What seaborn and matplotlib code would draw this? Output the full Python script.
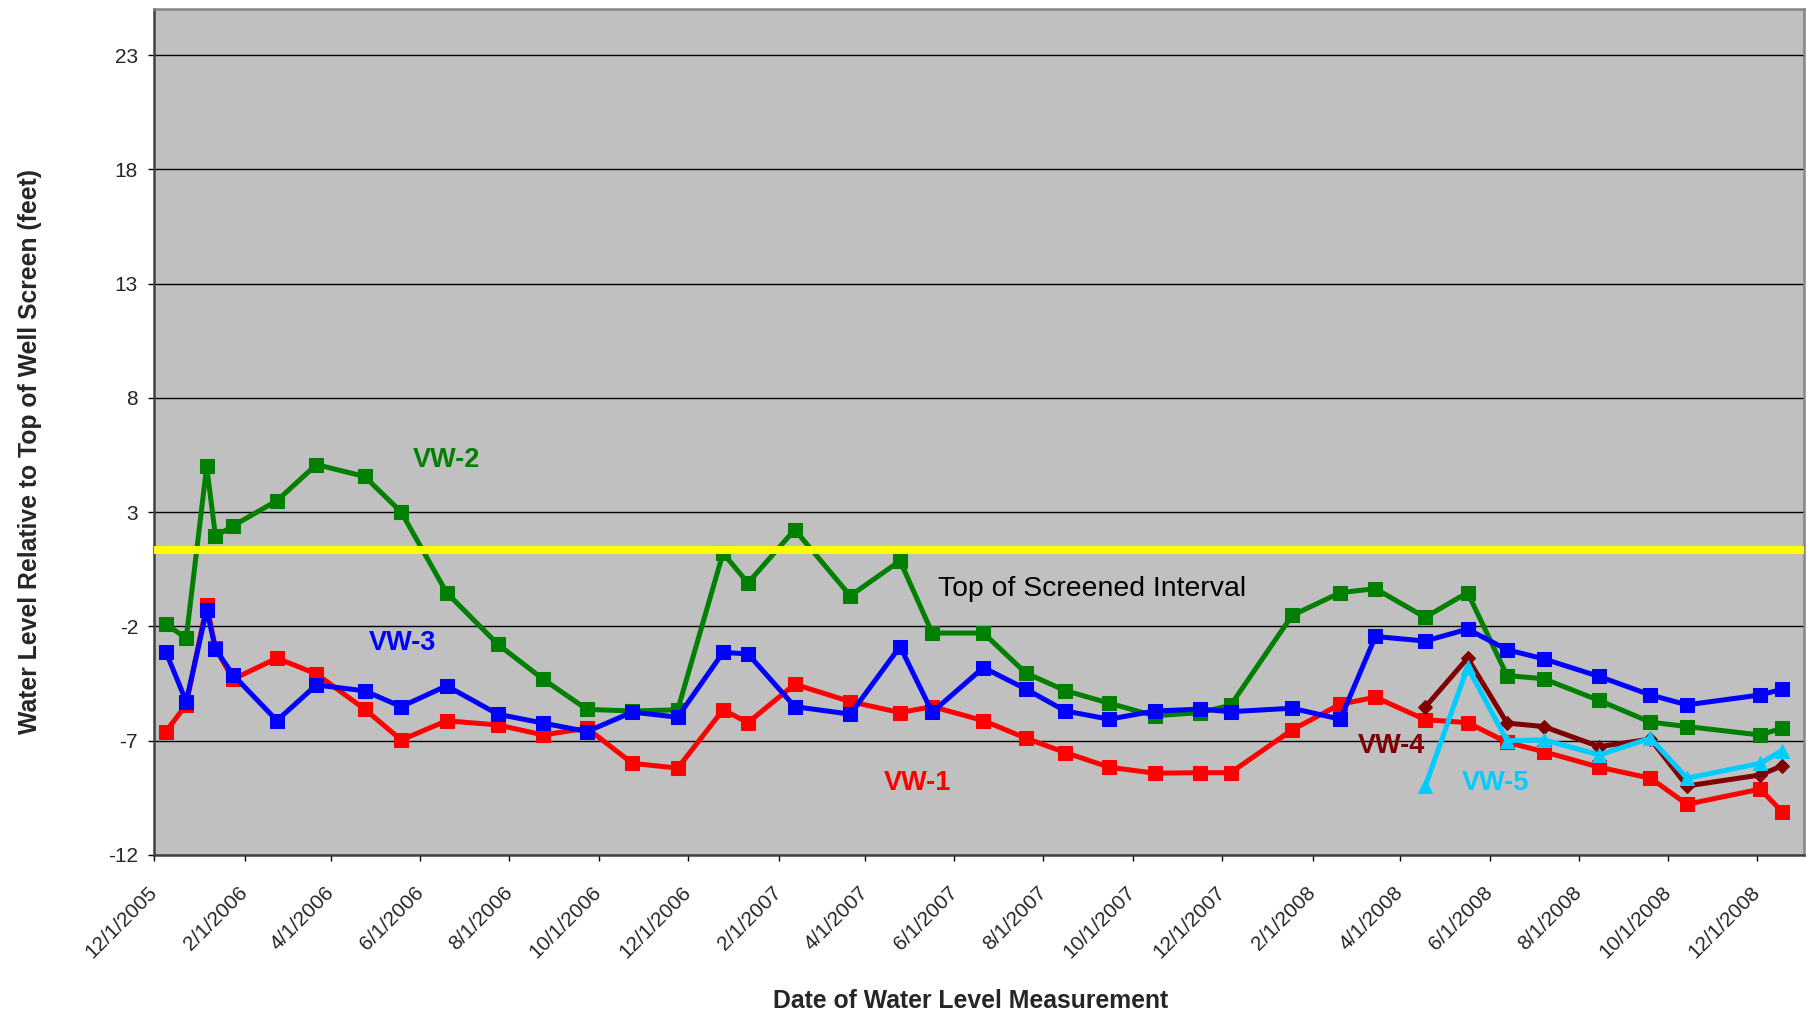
import seaborn as sns
import matplotlib.pyplot as plt
import pandas as pd

# measurement dates (shared by all wells)
dates = ['2005-12-09', '2005-12-23', '2006-01-06', '2006-01-12', '2006-01-24',
         '2006-02-23', '2006-03-22', '2006-04-24', '2006-05-19', '2006-06-19',
         '2006-07-24', '2006-08-24', '2006-09-23', '2006-10-24', '2006-11-24',
         '2006-12-25', '2007-01-11', '2007-02-12', '2007-03-22', '2007-04-25',
         '2007-05-17', '2007-06-21', '2007-07-20', '2007-08-16', '2007-09-15',
         '2007-10-16', '2007-11-16', '2007-12-07', '2008-01-18', '2008-02-20',
         '2008-03-15', '2008-04-18', '2008-05-17', '2008-06-13', '2008-07-08',
         '2008-08-15', '2008-09-19', '2008-10-14', '2008-12-03', '2008-12-18']

vw1 = [-6.6, -5.43, -1.05, -2.95, -4.31, -3.39, -4.08, -5.62, -6.97, -6.13,
       -6.31, -6.75, -6.45, -7.99, -8.2, -5.65, -6.21, -4.53, -5.29, -5.77,
       -5.51, -6.12, -6.89, -7.52, -8.16, -8.42, -8.4, -8.4, -6.53, -5.4,
       -5.1, -6.08, -6.21, -7.07, -7.48, -8.16, -8.64, -9.78, -9.12, -10.1]

vw2 = [-1.9, -2.51, 5.0, 1.94, 2.4, 3.5, 5.08, 4.56, 3.0, -0.52,
       -2.78, -4.31, -5.63, -5.7, -5.65, 1.21, -0.1, 2.23, -0.66, 0.87,
       -2.29, -2.29, -4.04, -4.81, -5.36, -5.91, -5.77, -5.45, -1.52, -0.52,
       -0.35, -1.6, -0.52, -4.15, -4.29, -5.24, -6.19, -6.38, -6.75, -6.45]

vw3 = [-3.1, -5.29, -1.27, -2.99, -4.12, -6.12, -4.56, -4.82, -5.51, -4.6,
       -5.84, -6.23, -6.6, -5.75, -5.97, -3.14, -3.2, -5.51, -5.84, -2.88,
       -5.75, -3.8, -4.74, -5.7, -6.06, -5.7, -5.62, -5.73, -5.58, -6.06,
       -2.44, -2.64, -2.12, -3.02, -3.42, -4.19, -5.0, -5.43, -5.0, -4.75]

# VW-4 and VW-5 start in April 2008
late_dates = dates[31:]
vw4 = [-5.53, -3.39, -6.23, -6.38, -7.26, -6.93, -8.98, -8.5, -8.1]
vw5 = [-9.0, -3.78, -7.0, -6.96, -7.62, -6.89, -8.64, -7.99, -7.43]

screen_top = 1.35

tick_labels = ['12/1/2005', '2/1/2006', '4/1/2006', '6/1/2006', '8/1/2006',
               '10/1/2006', '12/1/2006', '2/1/2007', '4/1/2007', '6/1/2007',
               '8/1/2007', '10/1/2007', '12/1/2007', '2/1/2008', '4/1/2008',
               '6/1/2008', '8/1/2008', '10/1/2008', '12/1/2008']
y_ticks = [-12, -7, -2, 3, 8, 13, 18, 23]

sns.set_style('white')
plt.rcParams['font.family'] = ['Liberation Sans', 'DejaVu Sans']
plt.rcParams['axes.unicode_minus'] = False

fig = plt.figure(figsize=(18.08, 10.21), dpi=100)
ax = fig.add_axes([0.0852, 0.1626, 0.9978 - 0.0852, 0.9909 - 0.1626])
ax.set_facecolor('#C0C0C0')

d_all = pd.to_datetime(dates)
d_late = pd.to_datetime(late_dates)

sns.lineplot(x=d_all, y=vw1, ax=ax, color='#FF0000', marker='s', markersize=10.5,
             markeredgecolor='#FF0000', linewidth=3.6, zorder=3)
sns.lineplot(x=d_all, y=vw2, ax=ax, color='#008000', marker='s', markersize=10.5,
             markeredgecolor='#008000', linewidth=3.6, zorder=3)
sns.lineplot(x=d_all, y=vw3, ax=ax, color='#0000FF', marker='s', markersize=10.5,
             markeredgecolor='#0000FF', linewidth=3.6, zorder=3)
sns.lineplot(x=d_late, y=vw4, ax=ax, color='#800000', marker='D', markersize=7,
             markeredgecolor='#800000', linewidth=3.6, zorder=3)
sns.lineplot(x=d_late, y=vw5, ax=ax, color='#00CCFF', marker='^', markersize=10.5,
             markeredgecolor='#00CCFF', linewidth=3.6, zorder=3)

ax.axhline(screen_top, color='#FFFF00', linewidth=5.8, zorder=5)

ax.set_xlim(pd.Timestamp('2005-12-01'), pd.Timestamp('2009-01-02'))
ax.set_ylim(-12, 25)
ax.set_yticks(y_ticks)
ax.set_xticks(pd.to_datetime(tick_labels, format='%m/%d/%Y'))
ax.set_xticklabels(tick_labels, rotation=45, ha='right', va='center',
                   rotation_mode='anchor', fontsize=15)

ax.set_axisbelow(True)
ax.yaxis.grid(True, color='black', linewidth=1.0)
ax.xaxis.grid(False)
ax.tick_params(axis='both', direction='out', length=4.5, width=1, color='black',
               labelsize=15, left=True, bottom=True)
ax.tick_params(axis='y', pad=7.0)
ax.tick_params(axis='x', pad=20.5)

for side in ['left', 'bottom']:
    ax.spines[side].set_color('#404040')
    ax.spines[side].set_linewidth(1.8)
for side in ['top', 'right']:
    ax.spines[side].set_color('#858585')
    ax.spines[side].set_linewidth(1.8)

ax.set_xlabel('Date of Water Level Measurement', fontsize=17.8, fontweight='bold')
ax.set_ylabel('Water Level Relative to Top of Well Screen (feet)', fontsize=17.8,
              fontweight='bold')
ax.xaxis.set_label_coords(0.495, -0.158)
ax.yaxis.set_label_coords(-0.068, 0.477)

lab_kw = dict(ha='center', va='center', fontsize=19.5, fontweight='bold', zorder=6)
ax.text(pd.Timestamp('2006-06-19'), 5.29, 'VW-2', color='#008000', **lab_kw)
ax.text(pd.Timestamp('2006-05-20'), -2.73, 'VW-3', color='#0000FF', **lab_kw)
ax.text(pd.Timestamp('2007-05-07'), -8.86, 'VW-1', color='#FF0000', **lab_kw)
ax.text(pd.Timestamp('2008-03-26'), -7.21, 'VW-4', color='#800000', **lab_kw)
ax.text(pd.Timestamp('2008-06-05'), -8.86, 'VW-5', color='#00CCFF', **lab_kw)
ax.text(pd.Timestamp('2007-09-03'), -0.36, 'Top of Screened Interval', color='black',
        ha='center', va='center', fontsize=20.4, zorder=6)

fig.savefig('out.png', dpi=100)
